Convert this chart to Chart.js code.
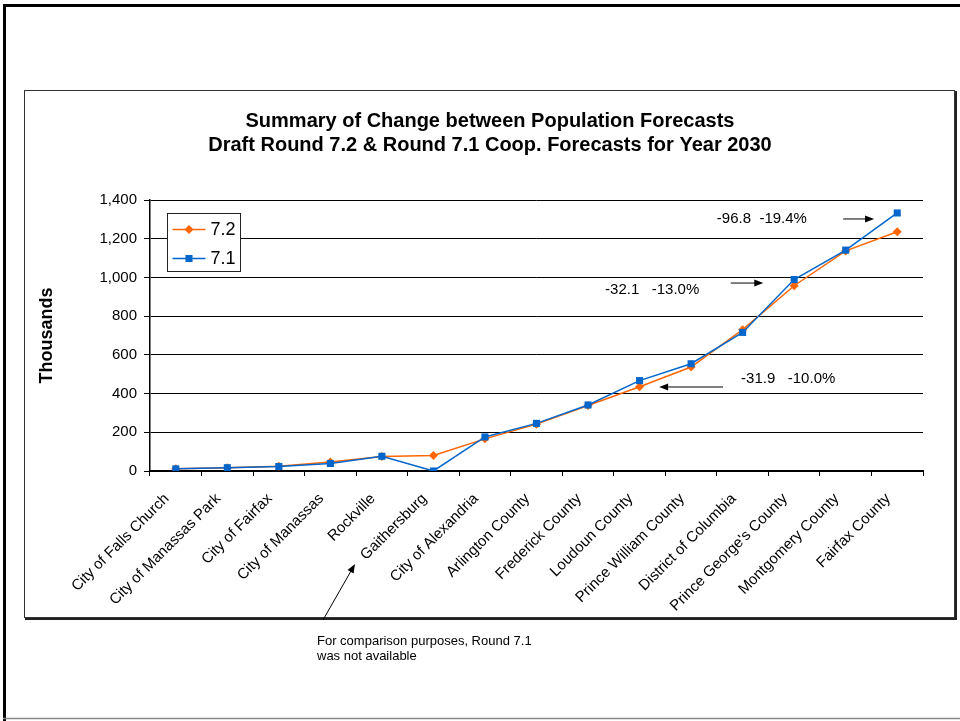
<!DOCTYPE html>
<html>
<head>
<meta charset="utf-8">
<title>Summary of Change between Population Forecasts</title>
<script src="https://cdn.jsdelivr.net/npm/chart.js@4/dist/chart.umd.min.js"></script>
<style>
  html, body { margin: 0; padding: 0; background: #fff; }
  #wrap { width: 960px; height: 721px; }
</style>
</head>
<body>
<div id="wrap"><canvas id="chart" width="960" height="721"></canvas></div>
<script>
"use strict";

// Jurisdictions, ordered by 2030 population.
const CATEGORIES = [
  "City of Falls Church", "City of Manassas Park", "City of Fairfax", "City of Manassas",
  "Rockville", "Gaithersburg", "City of Alexandria", "Arlington County", "Frederick County",
  "Loudoun County", "Prince William County", "District of Columbia", "Prince George's County",
  "Montgomery County", "Fairfax County",
];

// Population in thousands, year 2030.
const ROUND_72 = [11, 17, 24, 47, 75, 80, 166, 242, 338, 435, 537, 730, 957, 1137, 1236];
const ROUND_71 = [11, 17, 23, 39, 76, 0, 176, 246, 341, 467, 554, 716, 989, 1141, 1333];

const SERIES_NAMES = ["7.2", "7.1"];
const Y_MIN = 0;
const Y_MAX = 1400;
const Y_STEP = 200;

const TITLE_LINES = [
  "Summary of Change between Population Forecasts",
  "Draft Round 7.2 & Round 7.1 Coop. Forecasts for Year 2030",
];
const Y_TITLE = "Thousands";
const CALLOUT_TEXTS = ["-96.8  -19.4%", "-32.1   -13.0%", "-31.9   -10.0%"];
const NOTE_LINES = ["For comparison purposes, Round 7.1", "was not available"];

// Callout placement in axis units: [category index, thousands].
const CALLOUT_LAYOUT = [
  { text: [10.50, 1302], from: [12.95, 1302], to: [13.55, 1302] },
  { text: [8.33, 935], from: [10.77, 971], to: [11.40, 971] },
  { text: [10.97, 475], from: [10.62, 434], to: [9.38, 434] },
];

const FONT = "'Liberation Sans', Arial, sans-serif";
const ORANGE = "#FF6600";
const BLUE = "#0066CC";

function arrow(ctx, x1, y1, x2, y2) {
  const ang = Math.atan2(y2 - y1, x2 - x1);
  const len = 9, half = 3.5;
  ctx.beginPath();
  ctx.moveTo(x1, y1);
  ctx.lineTo(x2 - Math.cos(ang) * len * 0.8, y2 - Math.sin(ang) * len * 0.8);
  ctx.stroke();
  ctx.beginPath();
  ctx.moveTo(x2, y2);
  ctx.lineTo(x2 - Math.cos(ang) * len - Math.sin(ang) * half, y2 - Math.sin(ang) * len + Math.cos(ang) * half);
  ctx.lineTo(x2 - Math.cos(ang) * len + Math.sin(ang) * half, y2 - Math.sin(ang) * len - Math.cos(ang) * half);
  ctx.closePath();
  ctx.fill();
}

// Page frame, chart box, title and the footnote.
const framePlugin = {
  id: "frame",
  beforeDraw(chart) {
    const ctx = chart.ctx;
    ctx.save();
    ctx.fillStyle = "#fff";
    ctx.fillRect(0, 0, chart.width, chart.height);

    // outer page frame
    ctx.strokeStyle = "#000";
    ctx.lineWidth = 3;
    ctx.beginPath();
    ctx.moveTo(4.5, 721);
    ctx.lineTo(4.5, 5.5);
    ctx.lineTo(960, 5.5);
    ctx.stroke();
    ctx.strokeStyle = "#888";
    ctx.lineWidth = 1.5;
    ctx.beginPath();
    ctx.moveTo(3, 718.5);
    ctx.lineTo(960, 718.5);
    ctx.stroke();

    // chart box with shadow on right/bottom
    ctx.strokeStyle = "#333";
    ctx.lineWidth = 1;
    ctx.strokeRect(24.5, 90.5, 930, 527);
    ctx.strokeStyle = "#222";
    ctx.lineWidth = 2;
    ctx.beginPath();
    ctx.moveTo(956, 91);
    ctx.lineTo(956, 619);
    ctx.lineTo(25, 619);
    ctx.stroke();

    // title
    ctx.fillStyle = "#000";
    ctx.font = `bold 20px ${FONT}`;
    ctx.textAlign = "center";
    ctx.textBaseline = "middle";
    TITLE_LINES.forEach((line, i) => ctx.fillText(line, 490, 121 + i * 24));

    // footnote
    ctx.font = `13px ${FONT}`;
    ctx.textAlign = "left";
    NOTE_LINES.forEach((line, i) => ctx.fillText(line, 317, 641 + i * 15));
    ctx.lineWidth = 1;
    ctx.strokeStyle = "#000";
    arrow(ctx, 323, 620, 355, 564);
    ctx.restore();
  },
  afterDatasetsDraw(chart) {
    const ctx = chart.ctx;
    const xs = chart.scales.x, ys = chart.scales.y;
    ctx.save();
    ctx.fillStyle = "#000";
    ctx.strokeStyle = "#000";
    ctx.lineWidth = 1;
    ctx.font = `15px ${FONT}`;
    ctx.textAlign = "left";
    ctx.textBaseline = "middle";
    CALLOUT_LAYOUT.forEach((c, i) => {
      ctx.fillText(CALLOUT_TEXTS[i], xs.getPixelForValue(c.text[0]), ys.getPixelForValue(c.text[1]));
      arrow(ctx, xs.getPixelForValue(c.from[0]), ys.getPixelForValue(c.from[1]),
        xs.getPixelForValue(c.to[0]), ys.getPixelForValue(c.to[1]));
    });

    // legend box in the top-left corner of the plot
    const a = chart.chartArea;
    const lx = a.left + 17.5, ly = a.top + 13.5;
    ctx.fillStyle = "#fff";
    ctx.fillRect(lx, ly, 73, 58);
    ctx.strokeStyle = "#222";
    ctx.strokeRect(lx, ly, 73, 58);
    ctx.font = `18px ${FONT}`;
    chart.data.datasets.forEach((ds, i) => {
      const y = ly + 16 + i * 29;
      ctx.strokeStyle = ds.borderColor;
      ctx.lineWidth = ds.borderWidth;
      ctx.beginPath();
      ctx.moveTo(lx + 5, y);
      ctx.lineTo(lx + 38, y);
      ctx.stroke();
      ctx.fillStyle = ds.backgroundColor;
      Chart.helpers.drawPoint(ctx, {
        pointStyle: ds.pointStyle, radius: ds.pointRadius, rotation: 0, borderWidth: 0,
      }, lx + 21.5, y);
      ctx.fillStyle = "#000";
      ctx.fillText(ds.label, lx + 43, y + 1);
    });
    ctx.restore();
  },
};

new Chart(document.getElementById("chart"), {
  type: "line",
  data: {
    labels: CATEGORIES,
    datasets: [
      {
        label: SERIES_NAMES[0],
        data: ROUND_72,
        borderColor: ORANGE,
        backgroundColor: ORANGE,
        borderWidth: 1.5,
        pointStyle: "rectRot",
        pointRadius: 4.5,
        pointBorderWidth: 0,
        tension: 0,
        order: 1,
      },
      {
        label: SERIES_NAMES[1],
        data: ROUND_71,
        borderColor: BLUE,
        backgroundColor: BLUE,
        borderWidth: 1.5,
        pointStyle: "rect",
        pointRadius: 5,
        pointBorderWidth: 0,
        tension: 0,
        order: 0,
      },
    ],
  },
  options: {
    responsive: false,
    animation: false,
    devicePixelRatio: 1,
    layout: { padding: { left: 0, top: 200, right: 37, bottom: 0 } },
    plugins: {
      legend: { display: false },
      title: { display: false },
      tooltip: { enabled: false },
    },
    scales: {
      x: {
        offset: true,
        afterFit: (s) => { s.height = 250; },
        grid: { offset: true, drawOnChartArea: false, tickLength: 5, color: "#000" },
        border: { color: "#000", width: 2 },
        ticks: {
          color: "#000",
          font: { family: FONT, size: 15 },
          minRotation: 45,
          maxRotation: 45,
          autoSkip: false,
          padding: 14,
          labelOffset: -9,
        },
      },
      y: {
        min: Y_MIN,
        max: Y_MAX,
        afterFit: (s) => { s.width = 150; },
        grid: { color: "#000", tickLength: 6 },
        border: { color: "#000", width: 1.5 },
        ticks: {
          stepSize: Y_STEP,
          color: "#000",
          padding: 7,
          font: { family: FONT, size: 15 },
          callback: (v) => v.toLocaleString("en-US"),
        },
        title: {
          display: true,
          text: Y_TITLE,
          color: "#000",
          font: { family: FONT, size: 18, weight: "bold" },
          padding: { top: 36, bottom: 0 },
        },
      },
    },
  },
  plugins: [framePlugin],
});
</script>
</body>
</html>
